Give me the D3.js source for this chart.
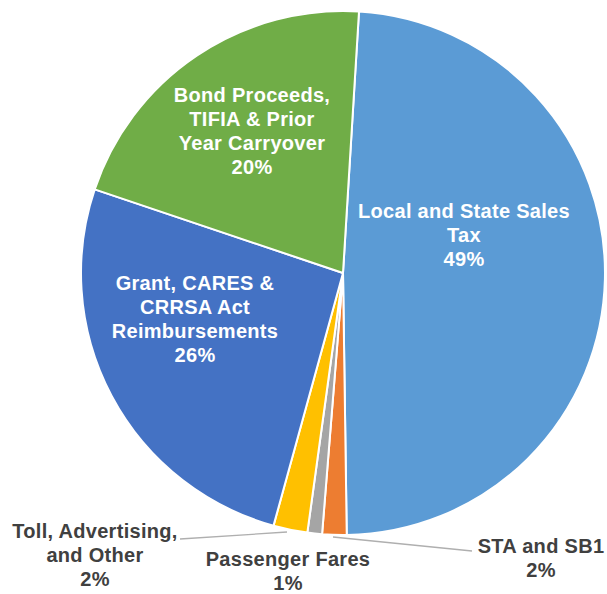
<!DOCTYPE html>
<html>
<head>
<meta charset="utf-8">
<script src="https://cdn.jsdelivr.net/npm/d3@7"></script>
<style>
  html, body { margin: 0; padding: 0; background: #ffffff; }
  svg { display: block; }
</style>
</head>
<body>
<svg id="chart" width="607" height="594"></svg>
<script>
// ---- data ----
const categories = [
  "Local and State Sales Tax",
  "STA and SB1",
  "Passenger Fares",
  "Toll, Advertising, and Other",
  "Grant, CARES & CRRSA Act Reimbursements",
  "Bond Proceeds, TIFIA & Prior Year Carryover"
];
const values = [48.8, 1.5, 0.9, 2.1, 25.9, 20.8];
const percentLabels = ["49%", "2%", "1%", "2%", "26%", "20%"];
const labelLines = [
  ["Local and State Sales", "Tax"],
  ["STA and SB1"],
  ["Passenger Fares"],
  ["Toll, Advertising,", "and Other"],
  ["Grant, CARES &", "CRRSA Act", "Reimbursements"],
  ["Bond Proceeds,", "TIFIA & Prior", "Year Carryover"]
];

// ---- layout / style (not data) ----
const colors = ["#5B9BD5", "#ED7D31", "#A5A5A5", "#FFC000", "#4472C4", "#70AD47"];
const cx = 343, cy = 273, R = 262;
const startDeg = 3.5;
const labelLayout = [
  { x: 464, y: 218, inside: true },
  { x: 541, y: 553, inside: false },
  { x: 288, y: 566, inside: false },
  { x: 95,  y: 538, inside: false },
  { x: 195, y: 290, inside: true },
  { x: 252, y: 102, inside: true }
];
const leaders = [
  { i: 1, pts: [[472, 551], [333, 537]] },
  { i: 3, pts: [[180, 539], [287, 532]] }
];
const lineH = 24;

const svg = d3.select("#chart");
const g = svg.append("g").attr("transform", `translate(${cx},${cy})`);

const pie = d3.pie().sort(null)
  .startAngle(startDeg * Math.PI / 180)
  .endAngle((startDeg + 360) * Math.PI / 180);
const arcs = pie(values);
const arc = d3.arc().innerRadius(0).outerRadius(R);

g.selectAll("path.slice")
  .data(arcs)
  .join("path")
  .attr("class", "slice")
  .attr("d", arc)
  .attr("fill", (d, i) => colors[i])
  .attr("stroke", "#ffffff")
  .attr("stroke-width", 2)
  .attr("stroke-linejoin", "round");

svg.selectAll("path.leader")
  .data(leaders)
  .join("path")
  .attr("class", "leader")
  .attr("d", d => d3.line()(d.pts))
  .attr("fill", "none")
  .attr("stroke", "#AFAFAF")
  .attr("stroke-width", 1.3);

const labels = svg.selectAll("text.lbl")
  .data(categories.map((c, i) => ({ i, lines: labelLines[i].concat([percentLabels[i]]) })))
  .join("text")
  .attr("class", "lbl")
  .attr("text-anchor", "middle")
  .attr("font-family", "'Liberation Sans', Arial, sans-serif")
  .attr("font-weight", "bold")
  .attr("font-size", 20)
  .attr("letter-spacing", 0.3)
  .attr("fill", d => labelLayout[d.i].inside ? "#ffffff" : "#404040");

labels.selectAll("tspan")
  .data(d => d.lines.map((t, k) => ({ t, k, i: d.i })))
  .join("tspan")
  .attr("x", d => labelLayout[d.i].x)
  .attr("y", d => labelLayout[d.i].y + d.k * lineH)
  .text(d => d.t);
</script>
</body>
</html>
